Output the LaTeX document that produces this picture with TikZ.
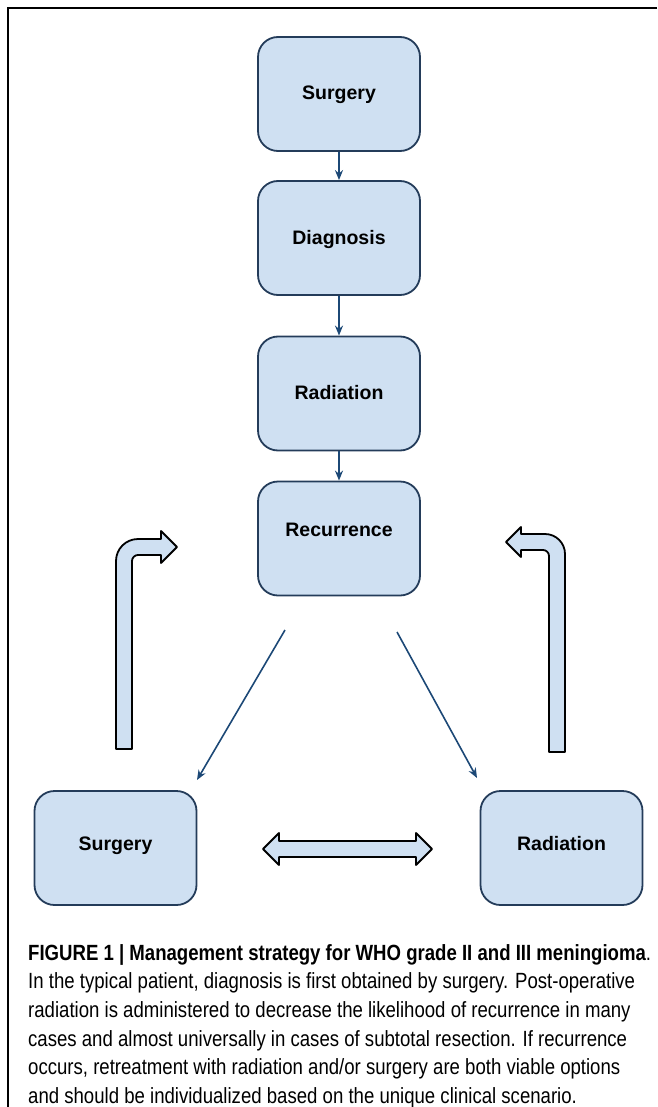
\documentclass[tikz,border=0pt]{standalone}
\usepackage{fontspec}
\setmainfont{Liberation Sans}
\newfontfamily\capfont[FakeStretch=0.845]{Liberation Sans}
\usetikzlibrary{positioning,arrows.meta}

\definecolor{boxfill}{RGB}{207,224,242}
\definecolor{boxline}{RGB}{36,60,90}
\definecolor{flowblue}{RGB}{28,72,118}

\begin{document}
\begin{tikzpicture}[x=1pt, y=-1pt,
  stage/.style={draw=boxline, line width=1.8pt, fill=boxfill, rounded corners=20pt,
    minimum width=162pt, minimum height=114pt, text height=14pt, text depth=2pt,
    font=\bfseries\fontsize{19.5}{22}\selectfont},
  lowrow/.style={text height=11pt, text depth=7pt},
  highrow/.style={text height=8pt, text depth=12pt},
  flow/.style={draw=flowblue, line width=1.6pt, -{Stealth[length=10pt,width=8pt]}},
  block/.style={draw=black, line width=1.8pt, fill=boxfill, line join=round}]
  \useasboundingbox (0,0) rectangle (657,1107);
  \draw[line width=2pt] (657,8) -- (8,8) -- (8,1107);

  \node[stage] (surgery) at (339,94) {Surgery};
  \node[stage] (diagnosis) at (339,238) {Diagnosis};
  \node[stage] (radiation) at (339,393.5) {Radiation};
  \node[stage, highrow] (recurrence) at (339,538.5) {Recurrence};
  \node[stage, lowrow] (resurgery) at (115.5,848) {Surgery};
  \node[stage, lowrow] (reradiation) at (561.5,848) {Radiation};

  \foreach \a/\b in {surgery/diagnosis, diagnosis/radiation, radiation/recurrence}
    \draw[flow] (\a) -- (\b);

  \coordinate (leftfrom) at (285,630);
  \coordinate (leftto) at (197,780);
  \coordinate (rightfrom) at (397,632);
  \coordinate (rightto) at (477,778);
  \draw[flow] (leftfrom) -- (leftto);
  \draw[flow] (rightfrom) -- (rightto);

  \draw[block] (116,749) -- (116,561) arc[start angle=180, end angle=270, radius=22]
    -- (161,539) -- (161,531) -- (177,547) -- (161,563) -- (161,555) -- (138,555)
    arc[start angle=270, end angle=180, radius=6] -- (132,749) -- cycle;
  \draw[block] (565,752) -- (565,554) arc[start angle=0, end angle=-90, radius=20]
    -- (521,534) -- (521,527) -- (506,542) -- (521,557) -- (521,550) -- (543,550)
    arc[start angle=270, end angle=360, radius=6] -- (549,752) -- cycle;
  \draw[block] (263,849) -- (279,833) -- (279,841) -- (416,841) -- (416,833) -- (432,849)
    -- (416,865) -- (416,857) -- (279,857) -- (279,865) -- cycle;

  \node[anchor=north west, align=left, inner sep=0pt, font=\capfont\fontsize{22}{28.7}\selectfont] (caption) at (28,944)
    {\textbf{FIGURE 1 | Management strategy for WHO grade II and III meningioma}.\\
     In the typical patient, diagnosis is first obtained by surgery. Post-operative\\
     radiation is administered to decrease the likelihood of recurrence in many\\
     cases and almost universally in cases of subtotal resection. If recurrence\\
     occurs, retreatment with radiation and/or surgery are both viable options\\
     and should be individualized based on the unique clinical scenario.};
\end{tikzpicture}
\end{document}
